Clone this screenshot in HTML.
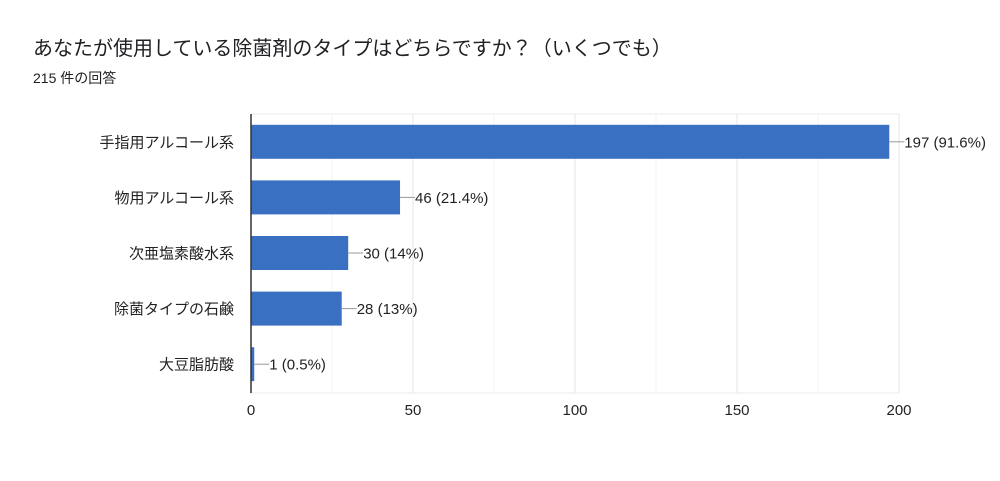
<!DOCTYPE html>
<html><head><meta charset="utf-8"><style>
body{margin:0;background:#fff;width:1000px;height:476px;overflow:hidden;font-family:"Liberation Sans","Noto Sans CJK JP",sans-serif;}
</style></head><body>
<svg width="1000" height="476">
<text x="33" y="55" font-size="20" fill="#202124">あなたが使用している除菌剤のタイプはどちらですか？（いくつでも）</text>
<text x="33" y="83" font-size="14" fill="#202124">215 件の回答</text>
<g id="plot"></g>
</svg>
<script>
const categories=["手指用アルコール系","物用アルコール系","次亜塩素酸水系","除菌タイプの石鹸","大豆脂肪酸"];
const values=[197,46,30,28,1];
const valueLabels=["197 (91.6%)","46 (21.4%)","30 (14%)","28 (13%)","1 (0.5%)"];
const ticks=[0,50,100,150,200];
const minorTicks=[25,75,125,175];
const x0=251,x1=899,yTop=114,yBot=393,band=55.6,barH=34;
const xs=v=>x0+(v/200)*(x1-x0);
const ys=i=>yTop+band*i+(band-barH)/2;
const ns="http://www.w3.org/2000/svg",g=document.getElementById('plot');
function mk(t,a){const e=document.createElementNS(ns,t);for(const k in a)e.setAttribute(k,a[k]);g.appendChild(e);return e;}
let e=mk('rect',{x:x0,y:yTop,width:x1-x0,height:yBot-yTop,fill:'none',stroke:'#ebebeb'});


minorTicks.forEach(t=>{const l=mk('line',{x1:xs(t),x2:xs(t),y1:yTop,y2:yBot,stroke:'#f3f3f3'});

});
ticks.forEach(t=>{const l=mk('line',{x1:xs(t),x2:xs(t),y1:yTop,y2:yBot,stroke:'#e6e6e6'});


const tx=mk('text',{x:xs(t),y:415,'font-size':15,fill:'#222','text-anchor':'middle'});tx.textContent=t;

});
categories.forEach((c,i)=>{const y=ys(i),w=xs(values[i])-x0;
const r=mk('rect',{x:x0,y:y,width:Math.max(w,2),height:barH,fill:'#3a70c2'});


const ex=x0+Math.max(w,2);
const ln=mk('line',{x1:ex,x2:ex+15,y1:y+barH/2,y2:y+barH/2,stroke:'#999'});


const vt=mk('text',{x:ex+15,y:y+barH/2+5.5,'font-size':15,fill:'#222'});vt.textContent=valueLabels[i];


const ct=mk('text',{x:234,y:y+barH/2+5.5,'font-size':15,fill:'#222','text-anchor':'end'});ct.textContent=c;

});
const ax=mk('line',{x1:x0,x2:x0,y1:yTop,y2:yBot,stroke:'#333','stroke-width':1.5});


</script>
</body></html>
